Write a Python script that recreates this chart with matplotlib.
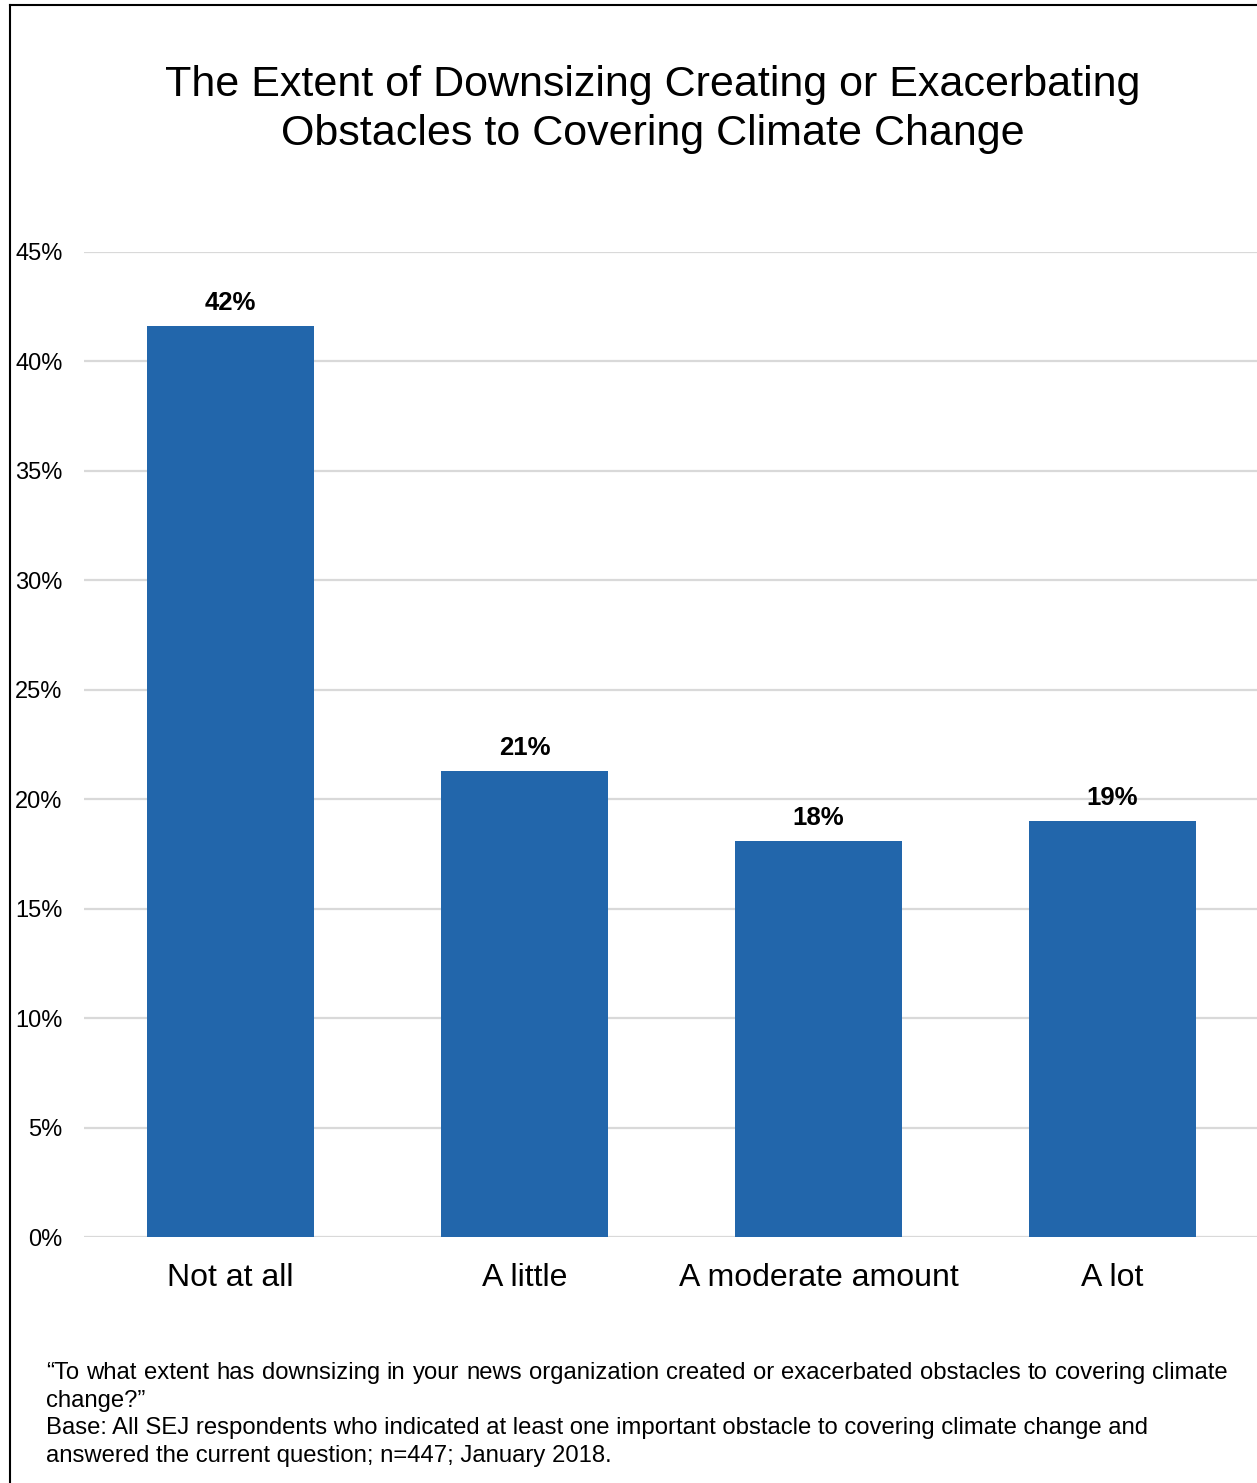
import matplotlib
matplotlib.use("Agg")
import matplotlib.pyplot as plt
from matplotlib.lines import Line2D

categories = ["Not at all", "A little", "A moderate amount", "A lot"]
values = [41.6, 21.3, 18.1, 19.0]
labels = ["42%", "21%", "18%", "19%"]
yticks = [0, 5, 10, 15, 20, 25, 30, 35, 40, 45]

title = "The Extent of Downsizing Creating or Exacerbating\nObstacles to Covering Climate Change"
note_lines = [
    "\u201cTo what extent has downsizing in your news organization created or exacerbated obstacles to covering climate",
    "change?\u201d",
    "Base: All SEJ respondents who indicated at least one important obstacle to covering climate change and",
    "answered the current question; n=447; January 2018.",
]
justified = [True, False, False, False]

plt.rcParams["font.family"] = ["Liberation Sans", "DejaVu Sans"]

W, H = 1257, 1483
fig = plt.figure(figsize=(W / 100, H / 100), dpi=100)

# axes placement in pixel terms
left, right, top, bottom = 83.5, 1259.5, 252, 1237
ax = fig.add_axes([left / W, 1 - bottom / H, (right - left) / W, (bottom - top) / H])

BAR = "#2266AB"
x = range(len(categories))
ax.bar(x, values, width=0.568, color=BAR, zorder=3)
ax.set_xlim(-0.5, 3.5)
ax.set_ylim(0, 45)
ax.set_yticks(yticks)
ax.set_yticklabels([f"{t}%" for t in yticks], fontsize=17)
ax.set_xticks(list(x))
ax.set_xticklabels(categories, fontsize=23)
ax.tick_params(axis="y", length=0, pad=15)
ax.tick_params(axis="x", length=0, pad=19)
ax.grid(axis="y", color="#d9d9d9", lw=1.6, zorder=0)
ax.set_axisbelow(True)
for s in ax.spines.values():
    s.set_visible(False)

for xi, v, lab in zip(x, values, labels):
    ax.annotate(lab, (xi, v), xytext=(0, 8), textcoords="offset points",
                ha="center", va="bottom", fontsize=18.5, fontweight="bold")

fig.text(653 / W, 1 - 109.5 / H, title, ha="center", va="center", fontsize=31,
         linespacing=1.26)

# footnote, first line justified between x=46 and x=1228 (baseline aligned)
renderer = fig.canvas.get_renderer()
x0, x1 = 46, 1228
for i, line in enumerate(note_lines):
    y = 1 - (1379 + i * 27.7) / H
    if not justified[i]:
        fig.text(x0 / W, y, line, ha="left", va="baseline", fontsize=17.2)
        continue
    words = line.split(" ")
    arts = [fig.text(0, y, w, ha="left", va="baseline", fontsize=17.2) for w in words]
    widths = [a.get_window_extent(renderer).width for a in arts]
    gap = (x1 - x0 - sum(widths)) / (len(words) - 1)
    pos = x0
    for a, w in zip(arts, widths):
        a.set_x(pos / W)
        pos += w + gap

# frame lines (top and left)
fig.add_artist(Line2D([10 / W, 1], [1 - 5 / H, 1 - 5 / H], color="black", lw=1.5,
                      transform=fig.transFigure))
fig.add_artist(Line2D([10 / W, 10 / W], [0, 1 - 5 / H], color="black", lw=1.5,
                      transform=fig.transFigure))

fig.savefig("out.png", dpi=100)
